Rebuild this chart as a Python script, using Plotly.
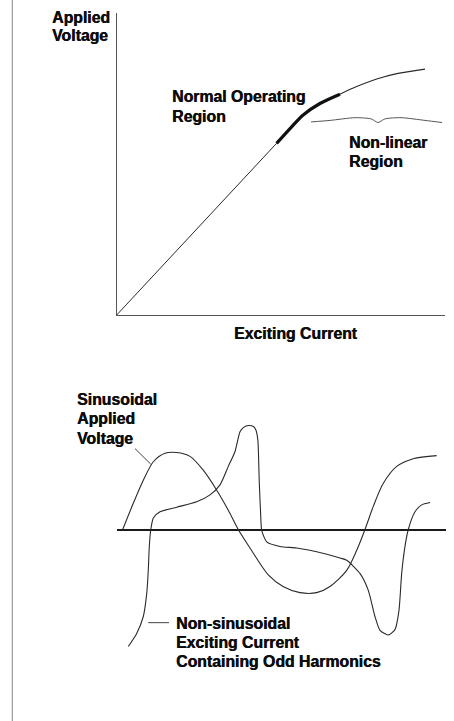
import plotly.graph_objects as go

W, H = 454, 721

# ---------------- Data: magnetization curve (top) ----------------
# Exciting current (arbitrary units) vs applied voltage (arbitrary units)
curve_linear_current = [0.0, 4.87]
curve_linear_voltage = [0.0, 5.69]
curve_normal_current = [4.87, 5.28, 5.68, 6.19, 6.80]
curve_normal_voltage = [5.69, 6.18, 6.63, 7.01, 7.32]
curve_sat_current = [6.80, 7.31, 7.92, 8.53, 9.39]
curve_sat_voltage = [7.32, 7.57, 7.82, 8.00, 8.15]
brace_current = [5.92, 6.50, 7.26, 7.75, 7.96, 8.17, 8.66, 9.39, 9.91]
brace_voltage = [6.40, 6.45, 6.54, 6.50, 6.38, 6.50, 6.54, 6.45, 6.38]

# ---------------- Data: waveforms (bottom) ----------------
# angle in degrees, amplitude relative to voltage peak
volt_deg = [0, 15.7, 30.6, 45.5, 62.8, 80.2, 100.0, 119.7, 139.7, 156.9, 171.7,
            189.1, 216.3, 238.2, 263.4, 288.2, 308.0, 332.8, 347.7, 360,
            372.3, 387.2, 407.1, 431.7, 466.5]
volt_amp = [0, 0.34, 0.64, 0.88, 0.99, 1.00, 0.95, 0.77, 0.51, 0.25, 0,
            -0.24, -0.59, -0.74, -0.82, -0.82, -0.74, -0.53, -0.27, 0,
            0.30, 0.60, 0.82, 0.92, 0.96]

curr_deg = [8.3, 20.8, 30.6, 35.7, 38.0, 39.5, 41.6, 45.5, 55.4, 80.2, 109.9,
            129.7, 144.6, 156.9, 166.8, 174.3, 180.2, 186.6, 193.6, 198.0,
            200.8, 202.9, 205.0, 206.5, 213.9, 233.7, 258.5, 288.2, 322.8,
            332.8, 352.5, 364.9, 374.8, 382.3, 394.6, 404.5, 410.5, 414.5,
            419.4, 424.3, 434.3, 444.2, 456.6]
curr_amp = [-1.52, -1.35, -1.13, -0.83, -0.53, -0.22, -0.01, 0.15, 0.23, 0.29, 0.36,
            0.45, 0.58, 0.82, 1.01, 1.27, 1.33, 1.35, 1.34, 1.29,
            1.16, 0.62, 0.19, -0.01, -0.16, -0.22, -0.24, -0.29, -0.37,
            -0.40, -0.57, -0.79, -1.13, -1.31, -1.37, -1.30, -1.05, -0.57,
            -0.22, 0.00, 0.23, 0.32, 0.35]

volt_leader_deg = [18.3, 41.6]
volt_leader_amp = [1.05, 0.85]
curr_leader_deg = [38.0, 68.8]
curr_leader_amp = [-1.21, -1.21]

# text labels (one entry per printed line)
label_applied_voltage = ["Applied", "Voltage"]
label_normal = ["Normal Operating", "Region"]
label_nonlinear = ["Non-linear", "Region"]
label_x_axis = "Exciting Current"
label_sinusoidal = ["Sinusoidal", "Applied", "Voltage"]
label_current = ["Non-sinusoidal", "Exciting Current", "Containing Odd Harmonics"]

# ---------------- Layout helpers (pixel -> paper) ----------------
def px(x):
    return x / W

def py(y):
    return 1 - y / H

LINE = "#2a2a2a"
TXT = "#0d0d0d"
FONT = "Liberation Sans, Arial, sans-serif"
FS = 15.8

fig = go.Figure()

# top chart
fig.add_trace(go.Scatter(x=curve_linear_current, y=curve_linear_voltage, mode="lines",
                         line=dict(color=LINE, width=1), xaxis="x", yaxis="y", hoverinfo="skip"))
fig.add_trace(go.Scatter(x=curve_normal_current, y=curve_normal_voltage, mode="lines",
                         line=dict(color="#111", width=3.2, shape="spline", smoothing=0.8),
                         xaxis="x", yaxis="y", hoverinfo="skip"))
fig.add_trace(go.Scatter(x=curve_sat_current, y=curve_sat_voltage, mode="lines",
                         line=dict(color=LINE, width=1.1, shape="spline", smoothing=0.8),
                         xaxis="x", yaxis="y", hoverinfo="skip"))
fig.add_trace(go.Scatter(x=brace_current, y=brace_voltage, mode="lines",
                         line=dict(color="#555", width=1, shape="spline", smoothing=0.7),
                         xaxis="x", yaxis="y", hoverinfo="skip"))

# bottom chart
fig.add_trace(go.Scatter(x=volt_deg, y=volt_amp, mode="lines",
                         line=dict(color=LINE, width=1.1, shape="spline", smoothing=0.8),
                         xaxis="x2", yaxis="y2", hoverinfo="skip"))
fig.add_trace(go.Scatter(x=curr_deg, y=curr_amp, mode="lines",
                         line=dict(color=LINE, width=1.1, shape="spline", smoothing=0.6),
                         xaxis="x2", yaxis="y2", hoverinfo="skip"))
fig.add_trace(go.Scatter(x=volt_leader_deg, y=volt_leader_amp, mode="lines",
                         line=dict(color="#444", width=1), xaxis="x2", yaxis="y2", hoverinfo="skip"))
fig.add_trace(go.Scatter(x=curr_leader_deg, y=curr_leader_amp, mode="lines",
                         line=dict(color="#444", width=1), xaxis="x2", yaxis="y2", hoverinfo="skip"))

# axes
x_left, x_right = 116.7, 445.0
y_top, y_bot = 13.3, 315.0
b_left, b_right = 117.3, 446.0
b_top, b_bot = 415.0, 660.0
deg_per_px = 360 / (365.0 - 122.7)
amp_per_px = 1 / 77.0

fig.update_layout(
    width=W, height=H,
    margin=dict(l=0, r=0, t=0, b=0),
    paper_bgcolor="white", plot_bgcolor="rgba(0,0,0,0)",
    showlegend=False,
    xaxis=dict(domain=[px(x_left), px(x_right)], range=[0, 10],
               showline=True, linecolor="#555", linewidth=1,
               showgrid=False, zeroline=False, showticklabels=False, ticks=""),
    yaxis=dict(domain=[py(y_bot), py(y_top)], range=[0, 10],
               showline=True, linecolor="#555", linewidth=1,
               showgrid=False, zeroline=False, showticklabels=False, ticks=""),
    xaxis2=dict(domain=[px(b_left), px(b_right)],
                range=[(b_left - 122.7) * deg_per_px, (b_right - 122.7) * deg_per_px],
                showline=False, showgrid=False, zeroline=False,
                showticklabels=False, ticks="", anchor="y2"),
    yaxis2=dict(domain=[py(b_bot), py(b_top)],
                range=[(529.5 - b_bot) * amp_per_px, (529.5 - b_top) * amp_per_px],
                showline=False, showgrid=False, zeroline=True,
                zerolinecolor="#1a1a1a", zerolinewidth=2,
                showticklabels=False, ticks="", anchor="x2"),
)

# left page border
fig.add_shape(type="line", xref="paper", yref="paper",
              x0=px(12.3), x1=px(12.3), y0=0, y1=1,
              line=dict(color="#9a9a9a", width=1.2))

def label(lines, x, y_first, spacing, xanchor="left"):
    if isinstance(lines, str):
        lines = [lines]
    for i, t in enumerate(lines):
        fig.add_annotation(text=t, xref="paper", yref="paper",
                           x=px(x), y=py(y_first + i * spacing),
                           xanchor=xanchor, yanchor="middle",
                           showarrow=False, borderpad=0,
                           font=dict(family=FONT, size=FS, color=TXT, weight="bold",
                                     shadow="0.5px 0px 0px #0d0d0d"))

label(label_applied_voltage, 50.5, 17.2, 18.5)
label(label_normal, 171, 97.0, 19.0)
label(label_nonlinear, 348, 142.6, 18.8)
label(label_x_axis, 295.5, 333.5, 0, xanchor="center")
label(label_sinusoidal, 75.5, 399.6, 19.3)
label(label_current, 174.5, 623.0, 19.4)

fig.write_html("out.html", config={"displayModeBar": False},
               post_script="document.body.style.margin='0px';document.body.style.padding='0px';")
